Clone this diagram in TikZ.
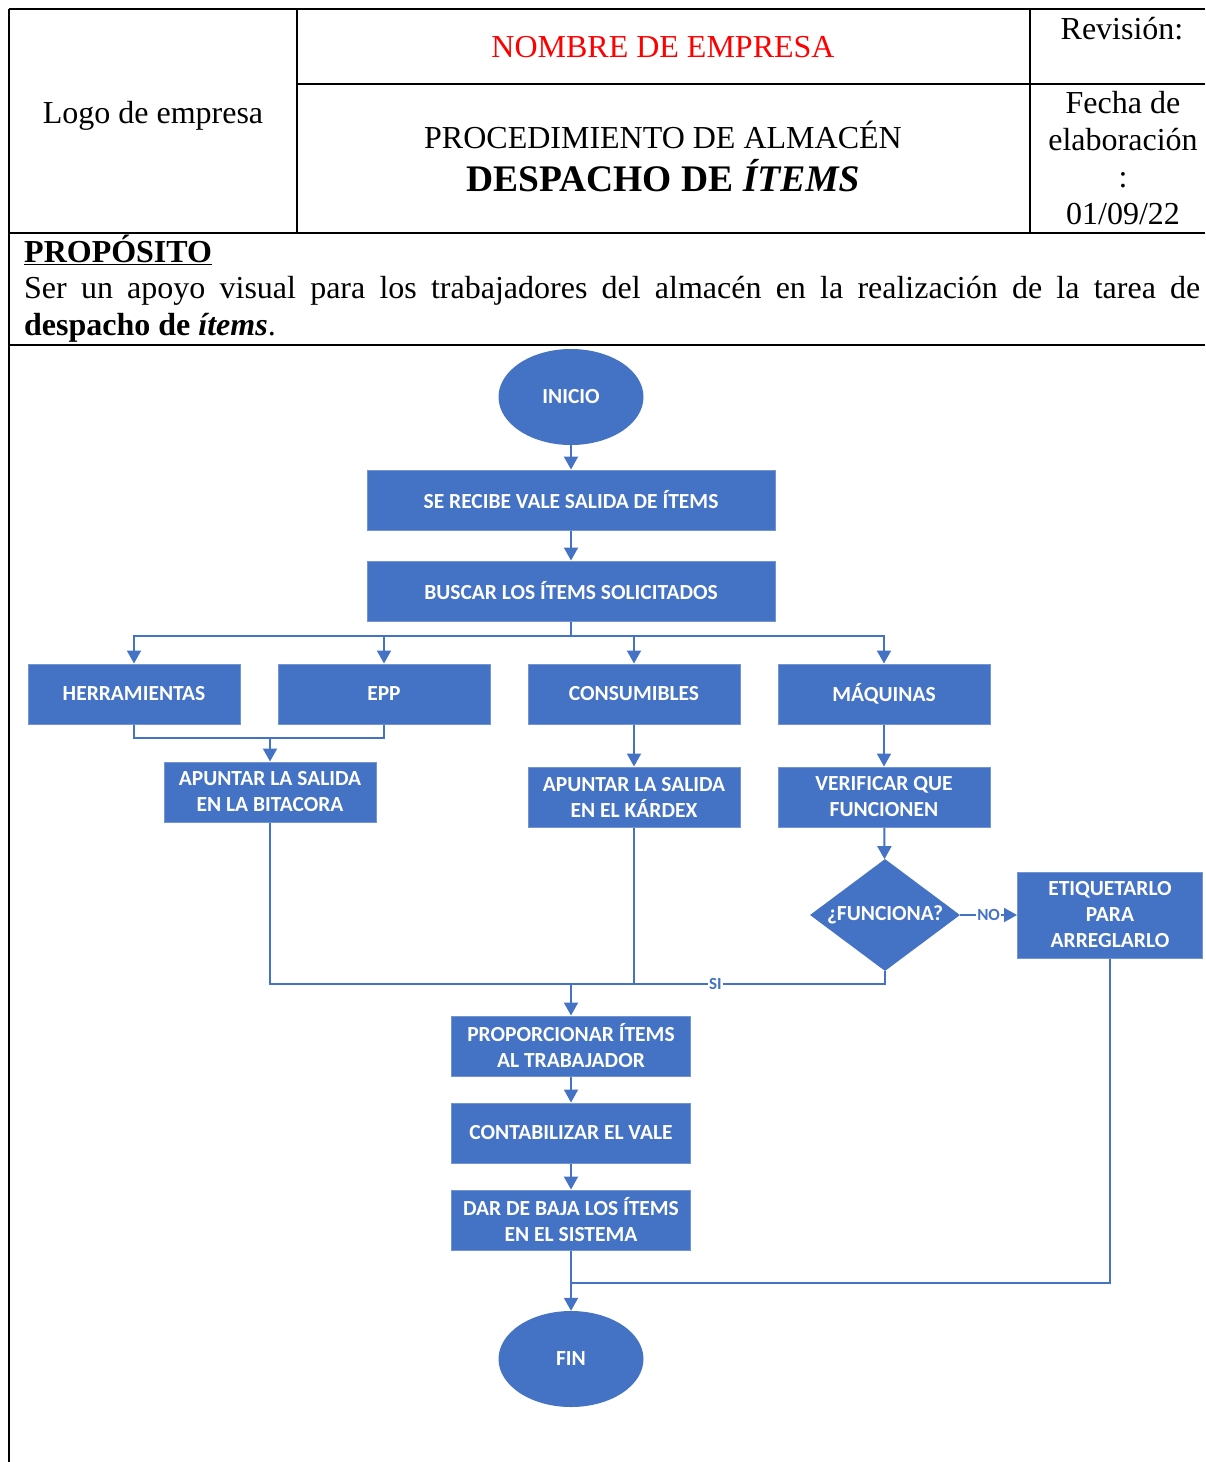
\documentclass[tikz,border=0pt]{standalone}
\usepackage{fontspec}
\setmainfont{Liberation Serif}
\newfontfamily\calibri{Carlito}
\usetikzlibrary{shapes.geometric,arrows.meta}
\definecolor{azul}{HTML}{4472C4}

\begin{document}
\begin{tikzpicture}[x=1pt, y=-1pt,
    linea/.style={line width=1.6pt},
    texto/.style={anchor=base, inner sep=0, font=\fontsize{32}{37}\selectfont},
    caja/.style={rectangle, fill=azul, draw=azul!75!white, line width=1pt, minimum width=212pt, minimum height=60pt, inner sep=2pt, align=center, text=white, font=\calibri\bfseries\fontsize{21.5}{26}\selectfont},
    terminal/.style={ellipse, fill=azul, minimum width=145pt, minimum height=96pt, inner sep=0, text=white, font=\calibri\bfseries\fontsize{21.5}{26}\selectfont},
    decision/.style={diamond, fill=azul, aspect=1.34, minimum width=150pt, minimum height=112pt, inner sep=0, text=white, font=\calibri\bfseries\fontsize{21.5}{26}\selectfont},
    flecha/.style={draw=azul, line width=2pt, -{Triangle[width=14pt,length=13pt]}},
    union/.style={draw=azul, line width=2pt},
    etiqueta/.style={fill=white, inner sep=1pt, text=azul, font=\calibri\bfseries\fontsize{17}{20}\selectfont}
]
\useasboundingbox (0,0) rectangle (1205,1462);
\draw[linea] (9,9) -- (1205,9);
\draw[linea] (9,9) -- (9,1462);
\draw[linea] (297,9) -- (297,233);
\draw[linea] (1030,9) -- (1030,233);
\draw[linea] (297,84) -- (1205,84);
\draw[linea] (9,233) -- (1205,233);
\draw[linea] (9,345) -- (1205,345);

\node[texto] (logo) at (153,123) {Logo de empresa};
\node[texto, text=red] (empresa) at (663,57) {NOMBRE DE EMPRESA};
\node[texto] (proc) at (663,148) {PROCEDIMIENTO DE ALMACÉN};
\node[texto, font=\bfseries\fontsize{37.5}{40}\selectfont] (titulo) at (663,191) {DESPACHO DE \textit{ÍTEMS}};
\node[texto] (rev) at (1122,39) {Revisión:};
\node[texto, anchor=north, align=center] (fecha) at (1123,91) {Fecha de\\elaboración\\:\\01/09/22};
\node[texto, anchor=base west] (prop) at (24,262) {\textbf{\underline{PROPÓSITO}}};
\node[texto, anchor=base west] (lin1) at (24,298) {\makebox[1176pt][s]{Ser un apoyo visual para los trabajadores del almacén en la realización de la tarea de}};
\node[texto, anchor=base west] (lin2) at (24,335) {\textbf{despacho de \textit{ítems}}.};

\node[terminal] (inicio) at (571,397) {INICIO};
\node[caja, minimum width=408pt] (recibe) at (571,500) {SE RECIBE VALE SALIDA DE ÍTEMS};
\node[caja, minimum width=408pt] (buscar) at (571,591) {BUSCAR LOS ÍTEMS SOLICITADOS};
\draw[flecha] (inicio) -- (recibe);
\draw[flecha] (recibe) -- (buscar);

\foreach \nombre/\etiq/\x in {herr/HERRAMIENTAS/134, epp/EPP/384, cons/CONSUMIBLES/634, maq/MÁQUINAS/884} {
    \node[caja] (\nombre) at (\x,694) {\etiq};
    \draw[flecha] (buscar.south) -- ++(0,14) -| (\nombre.north);
};

\node[caja] (bitacora) at (270,792) {APUNTAR LA SALIDA\\EN LA BITACORA};
\node[caja] (kardex) at (634,797) {APUNTAR LA SALIDA\\EN EL KÁRDEX};
\node[caja] (verificar) at (884,797) {VERIFICAR QUE\\FUNCIONEN};
\node[decision] (funciona) at (885,915) {¿FUNCIONA?};
\node[caja, minimum width=185pt, minimum height=86pt] (etiquetar) at (1110,915) {ETIQUETARLO\\PARA\\ARREGLARLO};

\coordinate (une) at (270,738);
\draw[union] (herr.south) |- (une) -| (epp.south);
\draw[flecha] (une) -- (bitacora);
\draw[flecha] (cons) -- (kardex);
\draw[flecha] (maq) -- (verificar);
\draw[flecha] (verificar) -- (funciona);
\draw[flecha] (funciona) -- node[etiqueta] {NO} (etiquetar);

\node[caja, minimum width=239pt] (proporcionar) at (571,1046) {PROPORCIONAR ÍTEMS\\AL TRABAJADOR};
\node[caja, minimum width=239pt] (contabilizar) at (571,1133) {CONTABILIZAR EL VALE};
\node[caja, minimum width=239pt] (baja) at (571,1220) {DAR DE BAJA LOS ÍTEMS\\EN EL SISTEMA};
\node[terminal] (fin) at (571,1359) {FIN};

\coordinate (junta) at (571,984);
\draw[union] (bitacora.south) |- (junta);
\draw[union] (kardex.south) -- (kardex.south |- junta);
\draw[union] (funciona.south) |- node[etiqueta, pos=0.77] {SI} (junta);
\draw[flecha] (junta) -- (proporcionar);
\draw[flecha] (proporcionar) -- (contabilizar);
\draw[flecha] (contabilizar) -- (baja);

\coordinate (junta2) at (571,1283);
\draw[union] (etiquetar.south) |- (junta2);
\draw[flecha] (baja) -- (fin);
\end{tikzpicture}
\end{document}
